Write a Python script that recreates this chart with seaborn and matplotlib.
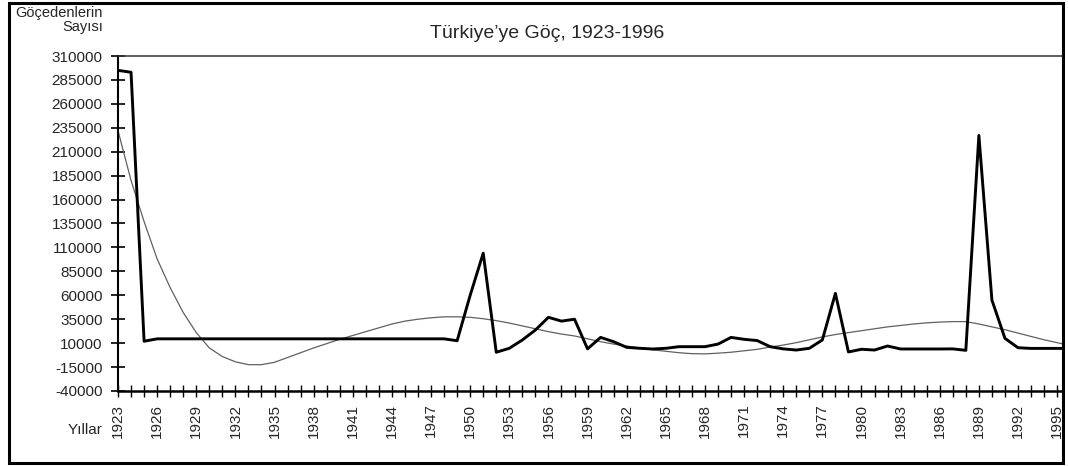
import matplotlib
matplotlib.use("Agg")
import matplotlib.pyplot as plt
from matplotlib.patches import Rectangle
from matplotlib.ticker import MultipleLocator
import seaborn as sns
import numpy as np
import pandas as pd

# ---- data ----
years = list(range(1923, 1997))

migrants = [
    295000, 293000, 12000, 14500, 14500, 14500, 14500, 14500, 14500, 14500,   # 1923-1932
    14500, 14500, 14500, 14500, 14500, 14500, 14500, 14500, 14500, 14500,     # 1933-1942
    14500, 14500, 14500, 14500, 14500, 14500, 12500, 60000, 104000, 500,      # 1943-1952
    4600, 13300, 23700, 37000, 33000, 35000, 4000, 16000, 11500, 5600,        # 1953-1962
    4600, 3900, 4600, 6300, 6300, 6300, 9000, 16000, 14000, 12700,            # 1963-1972
    6300, 4000, 2800, 4600, 13300, 62000, 800, 3600, 2800, 7000,              # 1973-1982
    3900, 3900, 3900, 3900, 4000, 2500, 227000, 55000, 15000, 5200,           # 1983-1992
    4500, 4500, 4500, 4500,                                                   # 1993-1996
]

trend = [
    232000, 180000, 137000, 98000, 68000, 42000, 21000, 5000, -4000, -9500,   # 1923-1932
    -12500, -12500, -10000, -5000, 0, 5000, 9500, 14000, 18000, 22000,        # 1933-1942
    26000, 30000, 33000, 35000, 36500, 37500, 37500, 37000, 35500, 33500,     # 1943-1952
    31000, 28000, 25000, 22000, 19500, 17500, 14500, 11500, 9000, 7000,       # 1953-1962
    5000, 3000, 1500, 0, -1000, -1200, -500, 500, 2000, 3500,                 # 1963-1972
    6000, 8000, 10500, 13500, 16500, 19000, 21000, 23000, 25000, 27000,       # 1973-1982
    28500, 30000, 31200, 32000, 32500, 32500, 30000, 27000, 24000, 20500,     # 1983-1992
    17000, 13500, 10500, 7500,                                                # 1993-1996
]

y_ticks = list(range(-40000, 310001, 25000))
x_label_years = list(range(1923, 1996, 3))

title = "Türkiye’ye Göç, 1923-1996"
y_title = "Göçedenlerin\nSayısı"
x_title = "Yıllar"

df = pd.DataFrame({"Yıl": years, "Göçmen": migrants, "Eğilim": trend})

# ---- style ----
sns.set_style("white")
plt.rcParams["font.family"] = ["Liberation Sans", "DejaVu Sans"]

W, H = 1068, 466
fig = plt.figure(figsize=(W / 100, H / 100), dpi=100)
ax = fig.add_axes([118 / W, 1 - 391 / H, (1063 - 118) / W, (391 - 56) / H])

sns.lineplot(data=df, x="Yıl", y="Eğilim", ax=ax, color="#606060", lw=0.9)
sns.lineplot(data=df, x="Yıl", y="Göçmen", ax=ax, color="black", lw=2.1)

ax.set_xlim(1923, 1995.45)
ax.set_ylim(-40000, 310000)
ax.set_yticks(y_ticks)
ax.set_yticklabels([str(v) for v in y_ticks], fontsize=11)
ax.set_xticks(x_label_years)
ax.set_xticklabels([str(v) for v in x_label_years], rotation=90, fontsize=11)
ax.xaxis.set_minor_locator(MultipleLocator(1))
ax.set_xlabel("")
ax.set_ylabel("")

ax.tick_params(axis="y", which="major", direction="inout", length=10, width=1.2,
               pad=6, color="black", left=True)
ax.tick_params(axis="x", which="both", direction="inout", length=8, width=1.0,
               pad=5, color="black", bottom=True)

for side in ["left", "bottom", "top"]:
    ax.spines[side].set_visible(True)
    ax.spines[side].set_color("black")
ax.spines["left"].set_linewidth(1.5)
ax.spines["bottom"].set_linewidth(1.8)
ax.spines["top"].set_linewidth(1.1)
ax.spines["top"].set_color("#333333")
ax.spines["right"].set_visible(False)

# ---- texts ----
fig.text(547 / W, 1 - 33 / H, title, ha="center", va="center", fontsize=14)
fig.text(103 / W, 1 - 20 / H, y_title, ha="right", va="center", fontsize=10.5,
         multialignment="right", linespacing=1.0)
fig.text(103 / W, 1 - 430 / H, x_title, ha="right", va="center", fontsize=11)

# ---- outer frame ----
fig.patches.append(Rectangle((9 / W, 3 / H), (1063 - 9) / W, (463 - 3) / H,
                             transform=fig.transFigure, fill=False,
                             edgecolor="black", lw=2.2))

fig.savefig("out.png", dpi=100, facecolor="white")
